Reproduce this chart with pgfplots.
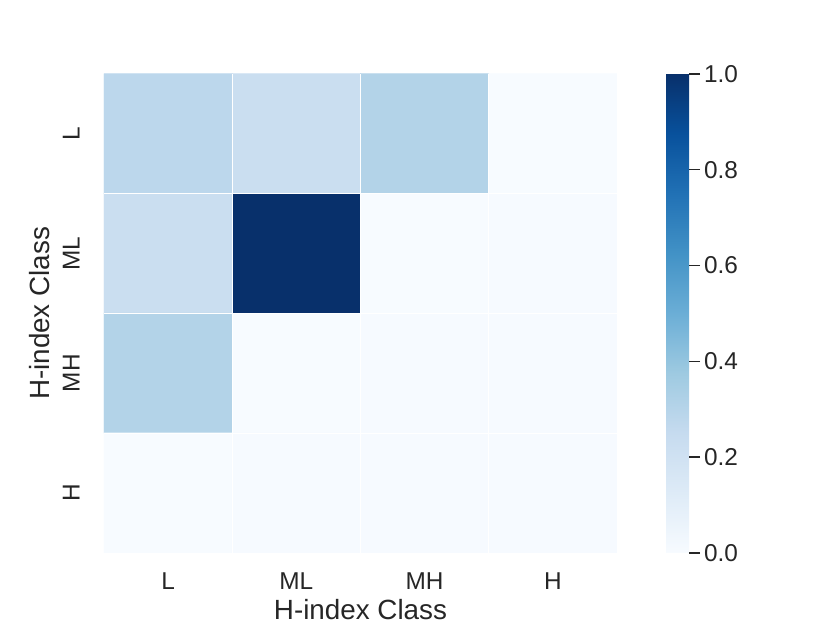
\documentclass[border=0pt]{standalone}
\usepackage{fontspec}
\setmainfont{Liberation Sans}
\usepackage{pgfplots}
\pgfplotsset{compat=1.18}
\definecolor{tickgray}{HTML}{262626}

\begin{document}
\begin{tikzpicture}
\fontsize{12bp}{14bp}\selectfont
\begin{axis}[
    scale only axis,
    width=284.1bp, height=265.3bp,
    xmin=-0.5, xmax=3.5, ymin=-0.5, ymax=3.5,
    y dir=reverse,
    axis line style={draw=none},
    axis on top,
    major tick length=0pt, minor tick length=0pt,
    xtick={0,1,2,3}, ytick={0,1,2,3},
    minor xtick={0.5,1.5,2.5}, minor ytick={0.5,1.5,2.5},
    minor grid style={white, line width=0.5bp},
    grid=minor,
    xticklabels={L,ML,MH,H},
    yticklabels={L,ML,MH,H},
    yticklabel style={xshift=-9.3bp, rotate=90, anchor=south, color=tickgray},
    xticklabel style={color=tickgray, yshift=-6.8bp},
    xlabel={H-index Class}, ylabel={H-index Class},
    xlabel style={color=tickgray, yshift=2.6bp},
    ylabel style={color=tickgray, yshift=-1bp},
    ticklabel style={font=\fontsize{13.5bp}{15bp}\selectfont},
    label style={font=\fontsize{15.4bp}{17bp}\selectfont},
    colormap={blues}{rgb255=(247,251,255) rgb255=(222,235,247) rgb255=(198,219,239) rgb255=(158,202,225) rgb255=(107,174,214) rgb255=(66,146,198) rgb255=(33,113,181) rgb255=(8,81,156) rgb255=(8,48,107)},
    point meta min=0, point meta max=1,
    colorbar,
    colorbar style={
        at={(parent axis.north east)}, anchor=north west, xshift=18.8bp,
        width=12.7bp,
        axis line style={draw=none},
        ytick={0,0.2,...,1},
        ytick pos=right, yticklabel pos=right,
        tick align=outside,
        major tick length=6.1bp,
        tick style={color=tickgray, line width=0.8bp},
        yticklabel style={color=tickgray, font=\fontsize{13.5bp}{15bp}\selectfont, inner xsep=2bp},
        yticklabel={\pgfmathprintnumber[fixed, fixed zerofill, precision=1, assume math mode=true]{\tick}},
    },
]
\addplot[matrix plot*, mesh/cols=4, mesh/rows=4, point meta=explicit]
table[meta=C] {
x y C
0 0 0.28
1 0 0.23
2 0 0.31
3 0 0.0
0 1 0.23
1 1 1.0
2 1 0.0
3 1 0.005
0 2 0.31
1 2 0.0
2 2 0.005
3 2 0.005
0 3 0.0
1 3 0.005
2 3 0.005
3 3 0.005
};
\end{axis}
\pgfresetboundingbox
\path (-57.6bp,-38.8bp) rectangle (402.1bp,306.2bp);
\end{tikzpicture}
\end{document}
